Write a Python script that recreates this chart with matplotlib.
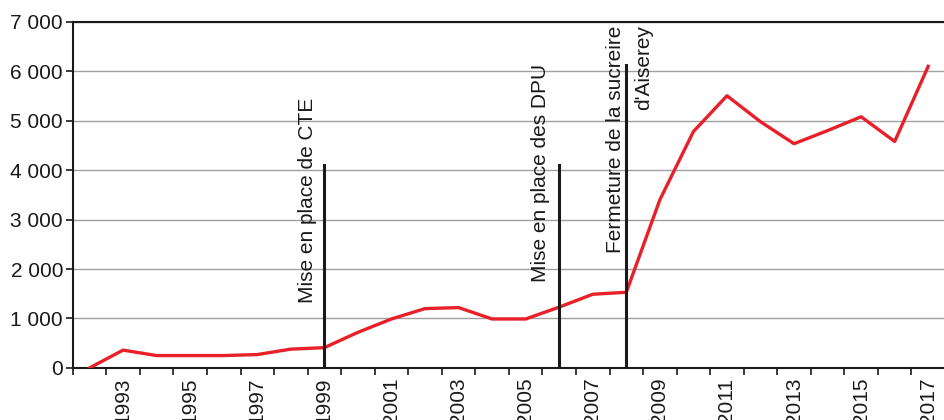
import matplotlib
matplotlib.use('Agg')
from matplotlib import pyplot as plt
from matplotlib.ticker import FuncFormatter, FixedLocator
import numpy as np

years = list(range(1992, 2018))
values = [0, 360, 250, 250, 250, 270, 380, 410, 720, 990, 1200, 1220, 990, 990,
          1230, 1490, 1530, 3400, 4780, 5505, 4980, 4535, 4800, 5080, 4580, 6100]

event_years = [1999, 2006, 2008]
event_heights = [4100, 4110, 6130]
event_labels = ["Mise en place de CTE", "Mise en place des DPU",
                "Fermeture de la sucreire\nd'Aiserey"]

plt.rcParams['font.family'] = ['Liberation Sans', 'DejaVu Sans']
FS = 15

fig = plt.figure(figsize=(9.45, 4.2), dpi=100)
ax = fig.add_axes([0.077, 0.124, 0.923, 0.824])

xpos = np.arange(len(years))
ax.plot(xpos, values, color='#e8202a', linewidth=2.4, zorder=3)

# vertical event lines
for yr, h in zip(event_years, event_heights):
    i = years.index(yr)
    ax.plot([i, i], [0, h], color='#1a1a1a', linewidth=2.2, zorder=4)

i0 = years.index(event_years[0])
ax.text(i0 - 0.5, 1320, event_labels[0], rotation=90, ha='center', va='bottom',
        fontsize=FS, color='#1a1a1a')
i1 = years.index(event_years[1])
ax.text(i1 - 0.55, 1730, event_labels[1], rotation=90, ha='center', va='bottom',
        fontsize=FS, color='#1a1a1a')
i2 = years.index(event_years[2])
ax.text(i2 + 0.11, 6930, event_labels[2], rotation=90, ha='center', va='top',
        multialignment='right', fontsize=FS, color='#1a1a1a', linespacing=1.6)

ax.set_xlim(-0.5, len(years) - 0.5)
ax.set_ylim(0, 7000)

# ticks at category boundaries, labels at odd years
ax.xaxis.set_major_locator(FixedLocator(np.arange(len(years) + 1) - 0.5))
ax.xaxis.set_major_formatter(FuncFormatter(lambda v, p: ''))
odd = [i for i, y in enumerate(years) if y % 2 == 1]
ax.xaxis.set_minor_locator(FixedLocator(odd))
ax.xaxis.set_minor_formatter(FuncFormatter(lambda v, p: str(years[int(round(v))])))
ax.tick_params(axis='x', which='major', direction='out', length=5, width=1.2, color='#1a1a1a')
ax.tick_params(axis='x', which='minor', length=0, labelsize=FS, labelrotation=90, pad=7,
               labelcolor='#1a1a1a')

ax.set_yticks(np.arange(0, 7001, 1000))
ax.yaxis.set_major_formatter(FuncFormatter(lambda v, p: '{:,.0f}'.format(v).replace(',', ' ')))
ax.tick_params(axis='y', direction='out', length=5, width=1.2, labelsize=FS,
               color='#1a1a1a', labelcolor='#1a1a1a', pad=2)

ax.grid(axis='y', color='#a0a0a0', linewidth=1)
ax.set_axisbelow(True)

ax.spines['right'].set_visible(False)
for s in ['left', 'bottom', 'top']:
    ax.spines[s].set_color('#1a1a1a')
    ax.spines[s].set_linewidth(1.5)

fig.savefig('out.png', dpi=100)
